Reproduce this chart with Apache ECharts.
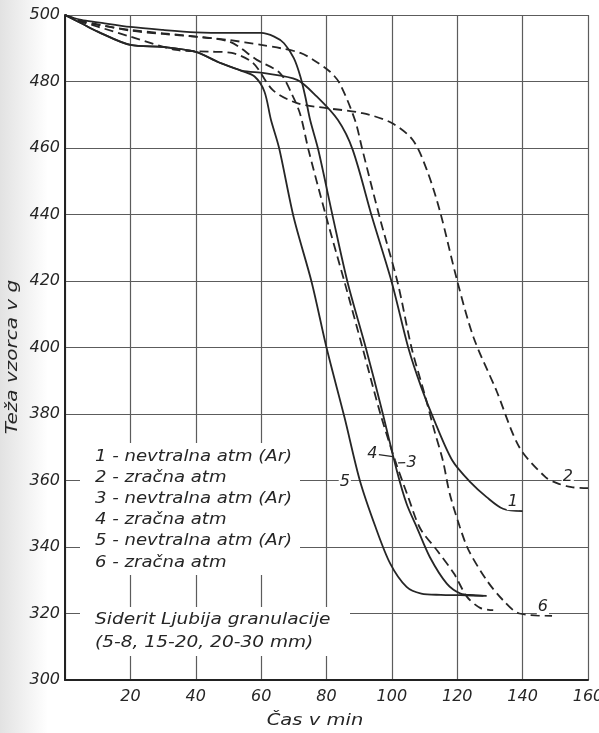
<!DOCTYPE html>
<html><head><meta charset="utf-8">
<script src="https://cdn.jsdelivr.net/npm/echarts@6/dist/echarts.min.js"></script>
<style>html,body{margin:0;padding:0;background:#fff}#c{width:599px;height:733px}</style>
</head><body><div id="c"></div>
<script>
// Curve 1 - nevtralna atm (Ar), solid
const t1 = [0, 5, 10, 20, 30, 40, 47, 54, 61, 71, 77, 83.5, 88, 94, 100, 105, 109, 113, 118.5, 124, 129, 134, 140];
const w1 = [500, 497.5, 495, 491, 490.4, 488.9, 485.8, 483.3, 482.5, 480.5, 475.5, 468.4, 459.5, 439, 419.5, 400, 388, 378, 366, 359.5, 355, 351.5, 350.8];
// Curve 2 - zracna atm, dashed
const t2 = [0, 5, 10, 20, 34, 44, 51, 57.5, 63.6, 71, 80, 91, 100, 106.4, 110.7, 114.7, 120, 125, 132, 139, 147, 150.5, 155, 160];
const w2 = [500, 498, 496.5, 493.5, 489.5, 489, 488.6, 485.6, 477.4, 473.5, 472, 470.5, 467.5, 462.4, 453.4, 441, 420, 403, 387, 370, 361, 359.2, 358, 357.7];
// Curve 3 - nevtralna atm (Ar), solid
const t3 = [0, 5, 10, 20, 30, 40, 50, 60, 64, 67, 70, 72, 73.5, 75, 77.5, 82, 86.5, 92, 97, 101.5, 104.5, 107.6, 111.6, 116.8, 121, 125, 128];
const w3 = [500, 498.5, 497.8, 496.4, 495.5, 494.8, 494.6, 494.6, 493.5, 491.5, 487, 481.5, 475.5, 468.4, 459.4, 439, 419.4, 400, 381, 363, 353, 346, 337, 329, 326, 325.5, 325.3];
// Curve 4 - zracna atm, dashed
const t4 = [0, 5, 10, 20, 30, 40, 50.5, 58.7, 65.7, 69.5, 72, 74.5, 80, 85.6, 91, 96.5, 101, 105, 108.6, 113.8, 119, 123, 127, 131];
const w4 = [500, 498, 497, 495.5, 494.5, 493.5, 491.9, 486.5, 482.6, 476, 470, 459.4, 439, 419.4, 400, 380, 366, 355, 345.7, 339, 332, 325, 321.7, 321];
// Curve 5 - nevtralna atm (Ar), solid
const t5 = [0, 5, 10, 20, 30, 40, 47, 54, 58, 61, 63, 65.5, 70, 75.5, 80, 85.5, 90.2, 95, 99.5, 104.5, 109, 115, 121, 129];
const w5 = [500, 497.5, 495, 491, 490.4, 488.9, 485.8, 483.2, 481.5, 477, 468.5, 460, 439, 419.5, 400, 379, 360, 346, 335, 328, 326, 325.6, 325.5, 325.3];
// Curve 6 - zracna atm, dashed
const t6 = [0, 5, 10, 20, 30, 40, 50, 60, 66, 72, 76, 81, 84, 88.7, 91, 96.3, 101.8, 106, 110, 113, 115.6, 117.7, 120.8, 123.5, 129, 134, 139, 149];
const w6 = [500, 498.3, 497.2, 495.3, 494.3, 493.5, 492.5, 491, 490, 488.6, 486.5, 483, 479.5, 468.4, 459.4, 439, 419.4, 400, 386, 375, 366, 356, 346, 339, 330, 324, 320, 319.3];

// curve number labels (data coordinates)
const labelText = ['1', '2', '3', '4', '5', '6'];
const labelT = [137, 153.8, 106, 94.0, 85.6, 146.2];
const labelW = [353.5, 361, 365.4, 368.0, 359.6, 322];
// leader ticks from labels 4 and 3 to their curves
const leaderT = [[96.0, 100.3], [101.9, 104.2]];
const leaderW = [[367.8, 367.2], [365.3, 365.4]];

const legendLines = ['1 - nevtralna atm (Ar)', '2 - zračna atm', '3 - nevtralna atm (Ar)', '4 - zračna atm', '5 - nevtralna atm (Ar)', '6 - zračna atm'];
const noteLines = ['Siderit Ljubija granulacije', '(5-8, 15-20, 20-30 mm)'];
const xTitle = 'Čas v min';
const yTitle = 'Teža vzorca v g';

const FONT = '"DejaVu Sans", sans-serif';
const INK = '#262626';
const zip = (a, b) => a.map((v, i) => [v, b[i]]);

function curve(name, t, w, dashed) {
  return {
    name, type: 'line', data: zip(t, w), showSymbol: false, symbol: 'none',
    smooth: 0.3, z: 3,
    lineStyle: { color: INK, width: 1.8, type: dashed ? [9, 5] : 'solid' }
  };
}

const chart = echarts.init(document.getElementById('c'), null, { renderer: 'canvas' });
const graphics = [
  { type: 'rect', left: 0, top: 0, shape: { width: 48, height: 733 }, z: -10, silent: true,
    style: { fill: new echarts.graphic.LinearGradient(0, 0, 1, 0, [{ offset: 0, color: '#e2e2e2' }, { offset: 1, color: '#ffffff' }]) } },
  { type: 'rect', left: 80, top: 443, shape: { width: 220, height: 132 }, z: 10, style: { fill: '#fff' } },
  { type: 'rect', left: 80, top: 607, shape: { width: 270, height: 49 }, z: 10, style: { fill: '#fff' } },
  { type: 'text', x: 13, y: 357, rotation: Math.PI / 2, scaleX: 1.25, z: 11,
    style: { text: yTitle, font: 'italic 16px ' + FONT, fill: INK, textAlign: 'center', textVerticalAlign: 'middle' } },
  { type: 'text', x: 315, y: 721, scaleX: 1.22, z: 11,
    style: { text: xTitle, font: 'italic 16px ' + FONT, fill: INK, textAlign: 'center', textVerticalAlign: 'middle' } }
];
const legendY = [457, 478, 499, 520, 541, 563];
legendLines.forEach((s, i) => graphics.push({
  type: 'text', x: 95, y: legendY[i], scaleX: 1.13, z: 11,
  style: { text: s, font: 'italic 16px ' + FONT, fill: INK, textVerticalAlign: 'middle' }
}));
const noteY = [620, 643];
noteLines.forEach((s, i) => graphics.push({
  type: 'text', x: 95, y: noteY[i], scaleX: 1.16, z: 11,
  style: { text: s, font: 'italic 16px ' + FONT, fill: INK, textVerticalAlign: 'middle' }
}));

chart.setOption({
  backgroundColor: '#fff',
  animation: false,
  grid: { left: 65, right: 11, top: 15, bottom: 53, containLabel: false, outerBoundsMode: 'none' },
  xAxis: {
    type: 'value', min: 0, max: 160, interval: 20,
    axisLine: { show: true, lineStyle: { color: '#222', width: 2 } },
    axisTick: { show: false },
    axisLabel: { fontFamily: FONT, fontStyle: 'italic', fontSize: 16, color: INK, margin: 9,
      formatter: v => (v === 0 ? '' : String(v)) },
    splitLine: { show: true, lineStyle: { color: '#5c5c5c', width: 1.2 } }
  },
  yAxis: {
    type: 'value', min: 300, max: 500, interval: 20,
    axisLine: { show: true, lineStyle: { color: '#222', width: 2 } },
    axisTick: { show: false },
    axisLabel: { fontFamily: FONT, fontStyle: 'italic', fontSize: 16, color: INK, margin: 5 },
    splitLine: { show: true, lineStyle: { color: '#5c5c5c', width: 1.2 } }
  },
  series: [
    curve('1', t1, w1, false),
    curve('2', t2, w2, true),
    curve('3', t3, w3, false),
    curve('4', t4, w4, true),
    curve('5', t5, w5, false),
    curve('6', t6, w6, true),
    {
      name: 'labels', type: 'scatter', z: 12,
      data: labelT.map((t, i) => ({ value: [t, labelW[i]], name: labelText[i] })),
      symbol: 'circle', symbolSize: 1, itemStyle: { color: 'rgba(0,0,0,0)', opacity: 1 },
      label: { show: true, position: 'inside', formatter: p => p.name, opacity: 1,
        fontFamily: FONT, fontStyle: 'italic', fontSize: 16, color: INK, backgroundColor: '#fff', padding: [0, 1] },
      silent: true,
      markLine: {
        silent: true, symbol: 'none', label: { show: false },
        lineStyle: { color: INK, width: 1.2, type: 'solid' },
        data: leaderT.map((tt, i) => [{ coord: [tt[0], leaderW[i][0]] }, { coord: [tt[1], leaderW[i][1]] }])
      }
    }
  ],
  graphic: graphics
});
</script></body></html>
